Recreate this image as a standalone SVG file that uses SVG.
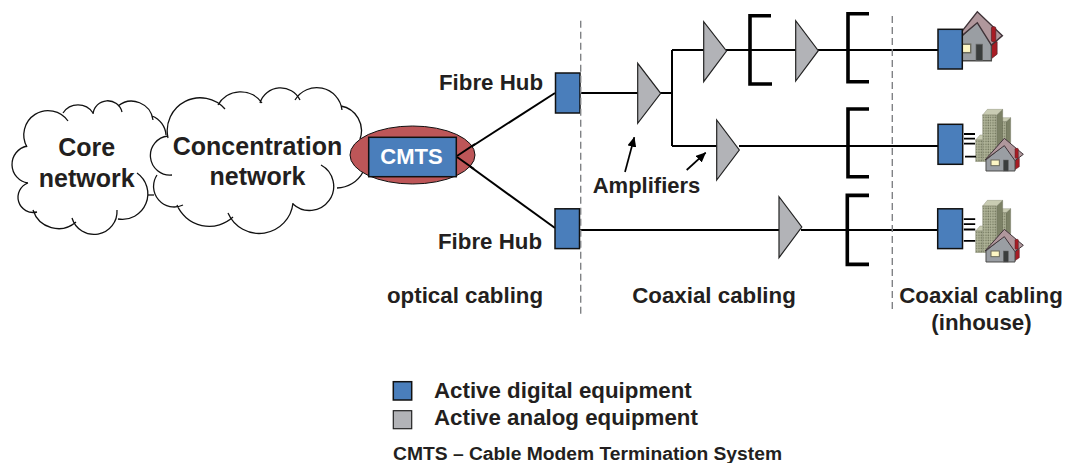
<svg xmlns="http://www.w3.org/2000/svg" width="1065" height="463" viewBox="0 0 1065 463">
<style>
text{font-family:"Liberation Sans",Arial,sans-serif;font-weight:bold;fill:#231f20}
.mid{text-anchor:middle}
.t22{font-size:22.300px}
.t25{font-size:25px}
.cloudfill{fill:#fff;stroke:none}
.cloudline{fill:none;stroke:#111;stroke-width:1.300}
.blue{fill:#4a7ebb;stroke:#111;stroke-width:1.500}
.amp{fill:#b2b3b7;stroke:#222;stroke-width:1.200}
.wire{fill:none;stroke:#000;stroke-width:2}
.pointer{fill:none;stroke:#000;stroke-width:1.700}
.bracket{fill:none;stroke:#000;stroke-width:3.600}
.dash{fill:none;stroke:#808285;stroke-width:1.400;stroke-dasharray:7 4}
.tick{stroke:#000;stroke-width:1.800}
</style>
<defs>
<marker id="head" markerUnits="userSpaceOnUse" markerWidth="10" markerHeight="9" refX="9.500" refY="4.500" orient="auto">
<path d="M0 0L10 4.500L0 9Z" fill="#000"/>
</marker>
<pattern id="win" patternUnits="userSpaceOnUse" width="7" height="8">
<rect width="7" height="8" fill="#b4b89c"/>
<rect x="1" y="1.500" width="4" height="4.500" fill="#70755c"/>
</pattern>
<g id="homeArt">
<path d="M405 190H418V215L405 224Z" fill="#a81c24" stroke="#55222a" stroke-width="1.500"/>
<path d="M318 228V195L373 150L405 182V228Z" fill="#9a9ea3" stroke="#4a4a48" stroke-width="3"/>
<path d="M315 195L373 130L430 178L405 197L373 152Z" fill="#b0979c" stroke="#3f3338" stroke-width="3"/>
<rect x="405" y="160" width="10" height="30" rx="3" fill="#a81c24" stroke="#55222a" stroke-width="1.500"/>
<rect x="333" y="195" width="25" height="17" fill="#fdf6c4" stroke="#6b6a5c" stroke-width="3"/>
<rect x="370" y="195" width="15" height="33" fill="#3a3d3d" stroke="#666" stroke-width="1.500"/>
</g>
<g id="towerArt">
<path d="M378 80L392 68V142L378 160Z" fill="#7c8166" stroke="#5c5f4a"/>
<path d="M352 80L366 68H392L378 80Z" fill="#c9ccb3" stroke="#70735c"/>
<rect x="352" y="80" width="26" height="90" fill="url(#win)" stroke="#70735c"/>
<path d="M350 60L368 43V180L350 200Z" fill="#7c8166" stroke="#5c5f4a"/>
<path d="M308 60L322 43H368L350 60Z" fill="#c9ccb3" stroke="#70735c"/>
<rect x="308" y="60" width="42" height="140" fill="url(#win)" stroke="#70735c"/>
<path d="M287 135L300 120H308V135Z" fill="#c9ccb3" stroke="#70735c"/>
<rect x="287" y="135" width="21" height="65" fill="url(#win)" stroke="#70735c"/>
</g>
</defs>

<g id="connectors">
<path class="wire" d="M457 156L555 93"/>
<path class="wire" d="M457 157L555 228"/>
<path class="wire" d="M580 93H638M660 93H672M672 50V146M672 50H704M726 50H796M818 50H938"/>
<path class="wire" d="M672 146H717M739 146H938"/>
<path class="wire" d="M579 230H779M801 230H938"/>
<path class="pointer" d="M625 172L634.300 137.300" marker-end="url(#head)"/>
<path class="pointer" d="M686.700 170L705.700 152.700" marker-end="url(#head)"/>
</g>

<g id="core-network">
<path class="cloudfill" d="M27 147A24.300 24.300 0 0 1 68 121L63 113A18 18 0 0 1 93 113A14.750 14.750 0 0 1 122 112L118 106A21.600 21.600 0 0 1 153 120L152 116A22 22 0 0 1 166 135L137 173A25.500 25.500 0 0 1 118 219L117 210A23 23 0 0 1 72 218L76 222A26.700 26.700 0 0 1 33 210L37 212A15.200 15.200 0 0 1 28 183A18.800 18.800 0 0 1 27 147Z"/>
<path class="cloudline" d="M27 147A24.300 24.300 0 0 1 68 121M63 113A18 18 0 0 1 93 113M93 114A14.750 14.750 0 0 1 122 112M118 106A21.600 21.600 0 0 1 153 120M152 116A22 22 0 0 1 166 135M137 173A25.500 25.500 0 0 1 118 219M117 210A23 23 0 0 1 72 218M76 222A26.700 26.700 0 0 1 33 210M37 212A15.200 15.200 0 0 1 28 183M28 183A18.800 18.800 0 0 1 27 146"/>
<path class="cloudline" d="M148 195H154"/>
</g>

<g id="concentration-network">
<path class="cloudfill" d="M172 175A19.600 19.600 0 1 1 168 136A33 33 0 0 1 225 109L218 105A26 26 0 0 1 262 103L260 103A21.600 21.600 0 0 1 300 100L295 100A25.400 25.400 0 0 1 342 110L341 106A25 25 0 0 1 360 139L363 172A30 30 0 0 1 337 188A24.200 24.200 0 0 1 293 204A34 34 0 0 1 228 213L233 217A35 35 0 0 1 177 205L183 205A20.600 20.600 0 0 1 157 175Z"/>
<path class="cloudline" d="M172 175A19.600 19.600 0 1 1 168 136M168 138A33 33 0 0 1 225 109M218 105A26 26 0 0 1 262 103M260 103A21.600 21.600 0 0 1 300 100M295 100A25.400 25.400 0 0 1 342 110M341 106A25 25 0 0 1 360 139M321 165A24.200 24.200 0 1 1 293 204M293 203A34 34 0 0 1 228 213M233 217A35 35 0 0 1 177 205M183 205A20.600 20.600 0 0 1 157 175M337 188A30 30 0 0 0 363 172"/>
</g>
<text class="mid t25" x="86.700" y="156">Core</text>
<text class="mid t25" x="86.700" y="187">network</text>
<text class="mid t25" x="257.500" y="154.500">Concentration</text>
<text class="mid t25" x="257.500" y="185">network</text>

<g id="cmts">
<ellipse cx="412.500" cy="155" rx="62.500" ry="29" fill="#bd5658" stroke="#111" stroke-width="1"/>
<path class="wire" d="M457 156L475 144M457 157L474 169"/>
<rect class="blue" x="368.700" y="137.300" width="87.600" height="39.400"/>
<text class="mid" x="411.500" y="164" font-size="22" style="fill:#fff">CMTS</text>
</g>

<g id="fibre-hub-1">
<rect class="blue" x="555.500" y="73" width="24.500" height="40"/>
<text class="t22" x="439" y="90">Fibre Hub</text>
</g>
<g id="fibre-hub-2">
<rect class="blue" x="555" y="208.800" width="24.500" height="39.800"/>
<text class="t22" x="438" y="249">Fibre Hub</text>
</g>

<g id="amp-1"><path class="amp" d="M637.700 63.300V123.300L660.700 93.300Z"/></g>
<g id="amp-2"><path class="amp" d="M703.700 21.700V81.700L726.500 51Z"/></g>
<g id="amp-3"><path class="amp" d="M795.700 20.700V81L818.300 50.700Z"/></g>
<g id="amp-4"><path class="amp" d="M716.700 120V180L739.300 150Z"/></g>
<g id="amp-5"><path class="amp" d="M779 196.700V257.700L801.800 227Z"/></g>

<g id="tap-1"><path class="bracket" d="M771 15.700H750V84H772"/></g>
<g id="tap-2"><path class="bracket" d="M869 13.700H848V81.700H869"/></g>
<g id="tap-3"><path class="bracket" d="M869 109H848V176.700H869"/></g>
<g id="tap-4"><path class="bracket" d="M869 195.400H847.300V264.400H869"/></g>

<g id="dividers">
<path class="dash" d="M580.700 20.700V316.700"/>
<path class="dash" d="M892.300 16V311.700"/>
</g>

<g id="home-1">
<use href="#homeArt" transform="matrix(.44 0 0 .5 813.200 -53.300)"/>
<rect class="blue" x="938" y="29.300" width="24.300" height="39.700"/>
</g>
<g id="home-2">
<g transform="translate(880 95) scale(.33333)">
<use href="#towerArt"/>
<use href="#homeArt"/>
</g>
<rect class="blue" x="938" y="124.300" width="24.700" height="40"/>
<path class="tick" d="M964 134H975M964 138.700H975M964 143.700H975M965 156.700H976"/>
</g>
<g id="home-3">
<g transform="translate(880 186) scale(.33333)">
<use href="#towerArt"/>
<use href="#homeArt"/>
</g>
<rect class="blue" x="937.700" y="208.800" width="24.800" height="39.800"/>
<path class="tick" d="M963.800 219.200H975.200M963.800 224.200H975.200M963.800 229.500H975.200M963.800 240.900H975.200"/>
</g>

<text x="592.700" y="192.700" font-size="22">Amplifiers</text>
<text class="t22" x="387" y="303">optical cabling</text>
<text class="mid t22" x="714" y="303">Coaxial cabling</text>
<text class="mid t22" x="981" y="303">Coaxial cabling</text>
<text class="mid t22" x="981.500" y="329.500">(inhouse)</text>

<g id="legend">
<rect class="blue" x="393.300" y="381.700" width="18.400" height="18.300"/>
<rect class="amp" x="393.300" y="410.700" width="18.400" height="18"/>
<text class="t22" x="434" y="398.300">Active digital equipment</text>
<text class="t22" x="434" y="425">Active analog equipment</text>
<text x="393" y="460" font-size="19.250">CMTS – Cable Modem Termination System</text>
</g>
</svg>
